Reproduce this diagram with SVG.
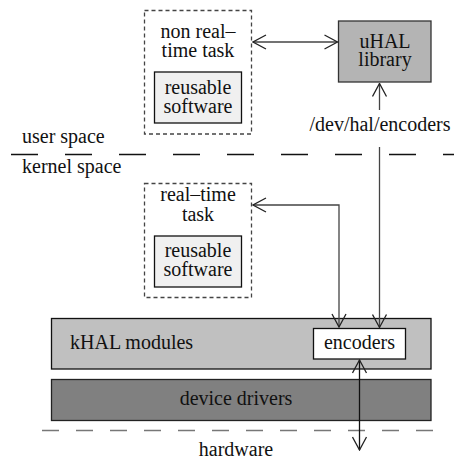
<svg xmlns="http://www.w3.org/2000/svg" width="454" height="459" viewBox="0 0 454 459">
<style>
text{font-family:'Liberation Serif','Times New Roman','DejaVu Serif',serif;font-size:20px;fill:#111}
.c{text-anchor:middle}
.task{fill:none;stroke:#444;stroke-width:1.3;stroke-dasharray:4 3}
.reuse{fill:#f0f0f0;stroke:#111;stroke-width:1.3}
.conn{fill:none;stroke:#444;stroke-width:1.3}
</style>
<defs>
<marker id="ah" viewBox="0 0 16 16" refX="15" refY="8" markerWidth="16" markerHeight="16" markerUnits="userSpaceOnUse" orient="auto-start-reverse">
<path d="M2,1 L15,8 L2,15" fill="none" stroke="#222" stroke-width="1.3"/>
</marker>
</defs>
<rect width="454" height="459" fill="#fff"/>

<g id="layer-lines">
<line x1="11" y1="154.5" x2="454" y2="154.5" stroke="#111" stroke-width="1.3" stroke-dasharray="27 27"/>
<line x1="42" y1="430.5" x2="434" y2="430.5" stroke="#777" stroke-width="1.3" stroke-dasharray="17 17"/>
<text x="22" y="143">user space</text>
<text x="22" y="173">kernel space</text>
<text class="c" x="236" y="456">hardware</text>
</g>

<g id="nonrt-task">
<rect class="task" x="144.5" y="10.5" width="107" height="123.5"/>
<text class="c" x="198" y="37.5">non real–</text>
<text class="c" x="198" y="57">time task</text>
<rect class="reuse" x="154.5" y="72" width="87" height="51"/>
<text class="c" x="198" y="93.5">reusable</text>
<text class="c" x="198" y="112.5">software</text>
</g>

<g id="rt-task">
<rect class="task" x="144.5" y="183.5" width="107" height="114"/>
<text class="c" x="198" y="200.5">real–time</text>
<text class="c" x="198" y="220.5">task</text>
<rect class="reuse" x="154.5" y="236" width="87" height="51"/>
<text class="c" x="198" y="256.5">reusable</text>
<text class="c" x="198" y="275.5">software</text>
</g>

<g id="uhal">
<rect x="338.5" y="21" width="92.5" height="61" fill="#b4b4b4" stroke="#333" stroke-width="1.3"/>
<text class="c" x="385" y="48">uHAL</text>
<text class="c" x="385" y="66">library</text>
</g>

<g id="khal">
<rect x="51.5" y="318.5" width="379.5" height="50.5" fill="#c0c0c0" stroke="#111" stroke-width="1.3"/>
<text x="70" y="349">kHAL modules</text>
</g>

<g id="encoders">
<rect x="313.5" y="328.5" width="92" height="30.5" fill="#fff" stroke="#111" stroke-width="1.3"/>
<text class="c" x="359.5" y="349">encoders</text>
</g>

<g id="drivers">
<rect x="51.5" y="379.5" width="379.5" height="41" fill="#808080" stroke="#222" stroke-width="1.3"/>
<text class="c" x="236" y="405">device drivers</text>
</g>

<g id="connectors">
<line class="conn" x1="253" y1="42" x2="337.5" y2="42" stroke="#222" marker-start="url(#ah)" marker-end="url(#ah)"/>
<line class="conn" x1="379.5" y1="110" x2="379.5" y2="83.5" marker-end="url(#ah)"/>
<text class="c" x="380" y="131">/dev/hal/encoders</text>
<line class="conn" x1="379.5" y1="147" x2="379.5" y2="327.5" marker-end="url(#ah)"/>
<polyline class="conn" points="253,205 339,205 339,327" marker-start="url(#ah)" marker-end="url(#ah)"/>
<line x1="359.5" y1="360" x2="359.5" y2="450" stroke="#111" stroke-width="1.3" marker-start="url(#ah)" marker-end="url(#ah)"/>
</g>
</svg>
